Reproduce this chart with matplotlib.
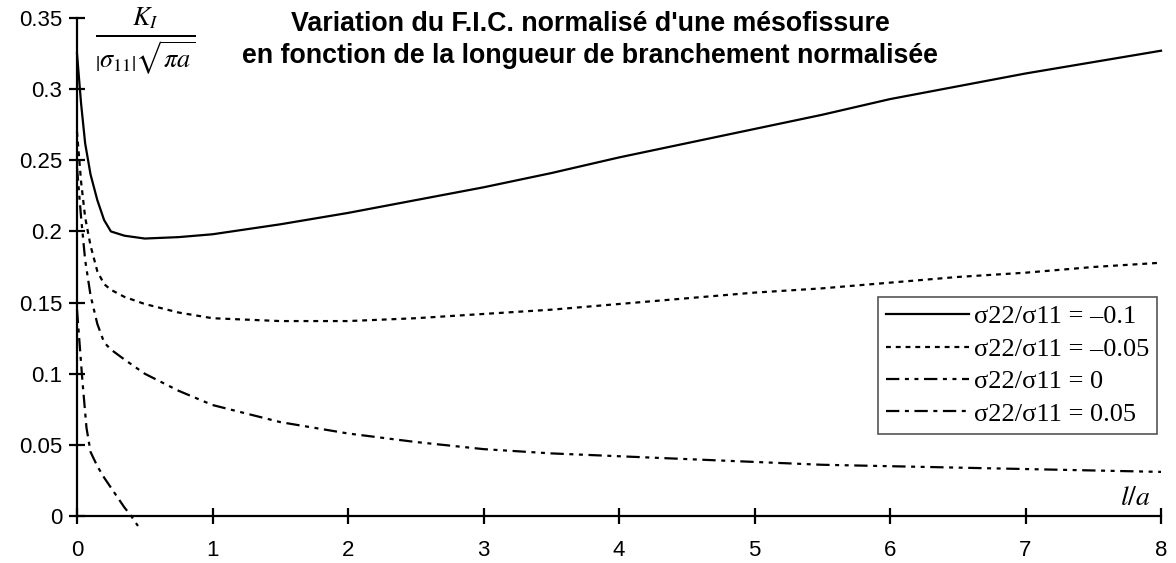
import matplotlib
matplotlib.use("Agg")
import matplotlib.pyplot as plt

plt.rcParams['mathtext.fontset'] = 'stix'

title_lines = ["Variation du F.I.C. normalisé d'une mésofissure",
               "en fonction de la longueur de branchement normalisée"]
labels = ["σ22/σ11 = –0.1", "σ22/σ11 = –0.05", "σ22/σ11 = 0", "σ22/σ11 = 0.05"]

x1 = [0, 0.03, 0.06, 0.1, 0.15, 0.2, 0.25, 0.35, 0.5, 0.75, 1, 1.5, 2, 2.5, 3, 3.5, 4, 4.5, 5, 5.5, 6, 6.5, 7, 7.5, 8]
y1 = [0.325, 0.29, 0.262, 0.24, 0.222, 0.208, 0.2, 0.197, 0.195, 0.196, 0.198, 0.205, 0.213, 0.222, 0.231, 0.241,
      0.252, 0.262, 0.272, 0.282, 0.293, 0.302, 0.311, 0.319, 0.327]

x2 = [0, 0.03, 0.06, 0.1, 0.15, 0.2, 0.25, 0.35, 0.5, 0.75, 1, 1.5, 2, 2.5, 3, 3.5, 4, 4.5, 5, 5.5, 6, 6.5, 7, 7.5, 8]
y2 = [0.27, 0.235, 0.21, 0.19, 0.172, 0.163, 0.159, 0.154, 0.149, 0.143, 0.139, 0.137, 0.137, 0.139, 0.142, 0.145,
      0.149, 0.153, 0.157, 0.16, 0.164, 0.168, 0.171, 0.175, 0.178]

x3 = [0, 0.03, 0.06, 0.1, 0.15, 0.2, 0.25, 0.35, 0.5, 0.75, 1, 1.5, 2, 2.5, 3, 3.5, 4, 4.5, 5, 5.5, 6, 6.5, 7, 7.5, 8]
y3 = [0.245, 0.21, 0.18, 0.155, 0.135, 0.122, 0.117, 0.11, 0.1, 0.088, 0.078, 0.066, 0.058, 0.052, 0.047, 0.044,
      0.042, 0.04, 0.038, 0.036, 0.035, 0.034, 0.033, 0.032, 0.031]

x4 = [0, 0.02, 0.04, 0.07, 0.1, 0.15, 0.2, 0.25, 0.3, 0.35, 0.4, 0.45]
y4 = [0.145, 0.12, 0.095, 0.062, 0.045, 0.035, 0.027, 0.02, 0.013, 0.006, 0.0, -0.007]

fig = plt.figure(figsize=(11.76, 5.63), dpi=100)
ax = fig.add_axes([77/1176, 1 - 516/563, (1161 - 77)/1176, (516 - 18)/563])

lw = 1.6
styles = [
    dict(linestyle='-'),
    dict(linestyle=(0, (2.2, 2.2))),
    dict(linestyle=(0, (6, 2.5, 1.8, 2.5, 1.8, 2.5))),
    dict(linestyle=(0, (6, 2.5, 1.8, 2.5))),
]
for xs, ys, lab, st in zip([x1, x2, x3, x4], [y1, y2, y3, y4], labels, styles):
    ax.plot(xs, ys, color='black', lw=lw, label=lab, clip_on=False, **st)

ax.set_xlim(0, 8)
ax.set_ylim(0, 0.35)
ax.set_xticks(range(0, 9))
ax.set_yticks([0, 0.05, 0.1, 0.15, 0.2, 0.25, 0.3, 0.35])
ax.set_yticklabels(['0', '0.05', '0.1', '0.15', '0.2', '0.25', '0.3', '0.35'])
for s in ['top', 'right']:
    ax.spines[s].set_visible(False)
for s in ['left', 'bottom']:
    ax.spines[s].set_linewidth(1.6)
ax.tick_params(direction='inout', length=11, width=1.6, labelsize=16, pad=5)
for t in ax.get_xticklabels() + ax.get_yticklabels():
    t.set_fontfamily('Liberation Sans')
ax.xaxis.set_tick_params(pad=12)

fig.text(590/1176, 1 - 31/563, title_lines[0], ha='center', va='baseline',
         fontsize=19.3, fontweight='bold', family='Liberation Sans')
fig.text(590/1176, 1 - 63/563, title_lines[1], ha='center', va='baseline',
         fontsize=19.3, fontweight='bold', family='Liberation Sans')

fig.text(145/1176, 1 - 41/563, r'$\frac{K_I}{\left|\sigma_{11}\right|\sqrt{\pi a}}$', ha='center', va='center',
         fontsize=27)
fig.text(1135/1176, 1 - 497/563, r'$l/a$', ha='center', va='center', fontsize=20)

leg = ax.legend(loc='upper left', bbox_to_anchor=(878/1176, 1 - 297/563), bbox_transform=fig.transFigure,
                prop={'family': 'Liberation Serif', 'size': 19}, handlelength=3.15, handletextpad=0.2,
                borderpad=0.3, labelspacing=0.34, fancybox=False, framealpha=1, borderaxespad=0)
leg.get_frame().set_edgecolor('#555555')
leg.get_frame().set_linewidth(1.2)

fig.savefig('out.png', dpi=100)
